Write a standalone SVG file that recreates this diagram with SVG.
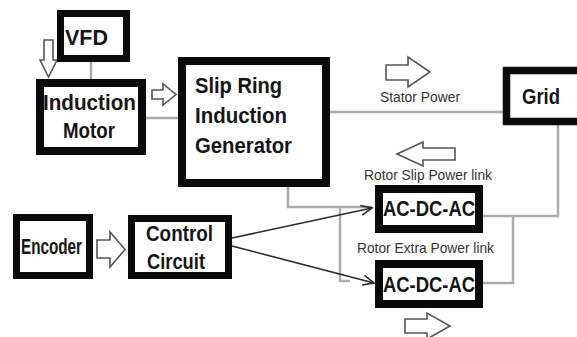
<svg xmlns="http://www.w3.org/2000/svg" width="577" height="337" viewBox="0 0 577 337">
<defs>
<style>
.box{fill:#fff;stroke:#0a0a0a;}
.t{font-family:"Liberation Sans",Arial,sans-serif;font-weight:bold;font-size:22px;fill:#151515;}
.s{font-family:"Liberation Sans",Arial,sans-serif;font-size:15px;fill:#333;}
.g{fill:none;stroke:#ababab;stroke-width:2.5;}
.k{fill:none;stroke:#2a2a2a;stroke-width:1.6;}
.h{fill:#fff;stroke:#555;stroke-width:1.6;stroke-linejoin:miter;}
</style>
<marker id="open" markerWidth="14" markerHeight="12" refX="12" refY="6" orient="auto" markerUnits="userSpaceOnUse">
<path d="M1,1 L12,6 L1,11" fill="none" stroke="#2a2a2a" stroke-width="1.6"/>
</marker>
</defs>
<rect width="577" height="337" fill="#fff"/>

<g id="connectors">
<path class="g" d="M91,62 V80"/>
<path class="g" d="M146,118 H183"/>
<path class="g" d="M330,112 H507"/>
<path class="g" d="M558,124 V216 H483"/>
<path class="g" d="M513,216 V283 H483"/>
<path class="g" d="M288,186 V207 H372"/>
<path class="g" d="M340,207 V281 H350"/>
<path class="k" d="M232,238 L372,208" marker-end="url(#open)"/>
<path class="k" d="M232,246 L374,283" marker-end="url(#open)"/>
<polygon class="h" points="44,40 53,40 53,60 57,60 48.5,77 40,60 44,60"/>
<polygon class="h" points="152,90 163,90 163,84 176,94.5 163,105 163,99 152,99"/>
<polygon class="h" points="386,65 408,65 408,57 430,72 408,87 408,80 386,80"/>
<polygon class="h" points="455,148 423,148 423,142 397,154 423,166 423,160 455,160"/>
<polygon class="h" points="405,319 427,319 427,313 450,326 427,339 427,333 405,333"/>
<polygon class="h" points="97,240 110,240 110,232 125,249.5 110,267 110,258 97,258"/>
</g>

<g id="vfd">
<rect class="box" x="60.5" y="13.5" width="66" height="45" stroke-width="7"/>
<text class="t" x="65" y="45" textLength="43" lengthAdjust="spacingAndGlyphs">VFD</text>
</g>

<g id="induction-motor">
<rect class="box" x="40" y="83" width="102" height="68" stroke-width="8"/>
<text class="t" x="43" y="110" textLength="93" lengthAdjust="spacingAndGlyphs">Induction</text>
<text class="t" x="63" y="138" textLength="52" lengthAdjust="spacingAndGlyphs">Motor</text>
</g>

<g id="srig">
<rect class="box" x="182" y="61" width="144" height="122" stroke-width="8"/>
<text class="t" x="195" y="93" textLength="87" lengthAdjust="spacingAndGlyphs">Slip Ring</text>
<text class="t" x="195" y="123" textLength="92" lengthAdjust="spacingAndGlyphs">Induction</text>
<text class="t" x="195" y="153" textLength="97" lengthAdjust="spacingAndGlyphs">Generator</text>
</g>

<g id="grid">
<rect class="box" x="506.5" y="70.5" width="80" height="51" stroke-width="7.5"/>
<text class="t" x="522" y="104" textLength="38" lengthAdjust="spacingAndGlyphs">Grid</text>
</g>

<g id="acdcac-top">
<rect class="box" x="379" y="189" width="100" height="40" stroke-width="8"/>
<text class="t" x="383" y="216" textLength="92" lengthAdjust="spacingAndGlyphs">AC-DC-AC</text>
</g>

<g id="acdcac-bottom">
<rect class="box" x="379" y="264" width="100" height="40" stroke-width="8"/>
<text class="t" x="383" y="292" textLength="92" lengthAdjust="spacingAndGlyphs">AC-DC-AC</text>
</g>

<g id="encoder">
<rect class="box" x="16.5" y="217.5" width="73" height="58" stroke-width="7"/>
<text class="t" x="21" y="254" textLength="61" lengthAdjust="spacingAndGlyphs">Encoder</text>
</g>

<g id="control-circuit">
<rect class="box" x="131.5" y="218.5" width="97" height="57" stroke-width="7"/>
<text class="t" x="146" y="241" textLength="67" lengthAdjust="spacingAndGlyphs">Control</text>
<text class="t" x="147" y="269" textLength="58" lengthAdjust="spacingAndGlyphs">Circuit</text>
</g>

<g id="labels">
<text class="s" x="380" y="102" textLength="80" lengthAdjust="spacingAndGlyphs">Stator Power</text>
<text class="s" x="364" y="180" textLength="128" lengthAdjust="spacingAndGlyphs">Rotor Slip Power link</text>
<text class="s" x="357" y="253" textLength="137" lengthAdjust="spacingAndGlyphs">Rotor Extra Power link</text>
</g>
</svg>
